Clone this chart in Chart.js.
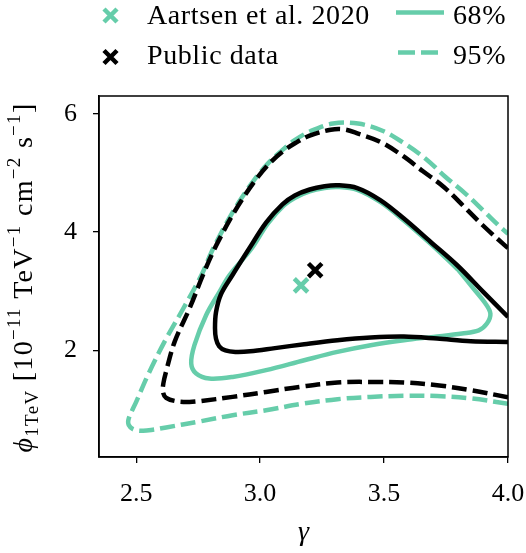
<!DOCTYPE html>
<html>
<head>
<meta charset="utf-8">
<script src="https://cdn.jsdelivr.net/npm/chart.js@4.4.1/dist/chart.umd.min.js"></script>
<style>
  html, body { margin: 0; padding: 0; background: #fff; }
</style>
</head>
<body>
<canvas id="contours" width="526" height="553"></canvas>
<script>
const GREEN = '#66CDAA';
const BLACK = '#000000';
const SERIF = '"Liberation Serif", "DejaVu Serif", serif';

const xTicks = [2.5, 3.0, 3.5, 4.0];
const yTicks = [2, 4, 6];

// 95% contour, Aartsen et al. 2020
const aartsen95Gamma = [4.0, 3.85, 3.714, 3.58, 3.446, 3.312, 3.17, 3.024, 2.889, 2.755, 2.621, 2.567, 2.527, 2.49, 2.47, 2.47, 2.50, 2.547, 2.614, 2.69, 2.763, 2.803, 2.843, 2.883, 2.923, 2.977, 3.031, 3.084, 3.138, 3.205, 3.294, 3.395, 3.496, 3.587, 3.67, 3.748, 3.828, 3.902, 3.966, 4.0];
const aartsen95Phi = [1.10, 1.19, 1.23, 1.235, 1.215, 1.177, 1.10, 0.99, 0.906, 0.80, 0.70, 0.66, 0.643, 0.665, 0.74, 0.85, 1.131, 1.582, 2.145, 2.709, 3.271, 3.655, 3.987, 4.291, 4.563, 4.887, 5.157, 5.365, 5.55, 5.709, 5.834, 5.834, 5.709, 5.484, 5.231, 4.932, 4.651, 4.357, 4.099, 3.97];

// 68% contour, Aartsen et al. 2020 (closed)
const aartsen68Gamma = [3.80, 3.855, 3.909, 3.929, 3.915, 3.882, 3.815, 3.70, 3.58, 3.446, 3.312, 3.178, 3.024, 2.889, 2.795, 2.742, 2.722, 2.735, 2.782, 2.836, 2.876, 2.965, 3.03, 3.095, 3.145, 3.20, 3.26, 3.312, 3.392, 3.486, 3.58, 3.688, 3.77, 3.80];
const aartsen68Phi = [3.36, 3.074, 2.793, 2.624, 2.455, 2.34, 2.287, 2.23, 2.173, 2.089, 1.976, 1.835, 1.667, 1.553, 1.526, 1.611, 1.78, 2.089, 2.596, 2.989, 3.271, 3.72, 4.14, 4.45, 4.59, 4.69, 4.745, 4.762, 4.715, 4.505, 4.195, 3.80, 3.48, 3.36];

// 95% contour, public data
const public95Gamma = [4.0, 3.85, 3.714, 3.58, 3.446, 3.312, 3.158, 3.024, 2.889, 2.755, 2.715, 2.661, 2.621, 2.608, 2.610, 2.621, 2.655, 2.715, 2.769, 2.809, 2.849, 2.889, 2.929, 2.983, 3.037, 3.09, 3.144, 3.20, 3.285, 3.34, 3.395, 3.486, 3.576, 3.657, 3.741, 3.824, 3.898, 3.976, 4.0];
const public95Phi = [1.21, 1.329, 1.413, 1.459, 1.469, 1.459, 1.384, 1.30, 1.216, 1.143, 1.131, 1.143, 1.20, 1.30, 1.45, 1.65, 2.145, 2.709, 3.271, 3.655, 3.987, 4.291, 4.563, 4.887, 5.157, 5.358, 5.509, 5.63, 5.73, 5.735, 5.665, 5.523, 5.287, 5.028, 4.763, 4.425, 4.116, 3.817, 3.73];

// 68% contour, public data
const public68Gamma = [4.0, 3.85, 3.714, 3.58, 3.446, 3.312, 3.178, 3.06, 2.96, 2.90, 2.86, 2.835, 2.822, 2.818, 2.822, 2.842, 2.888, 2.956, 3.024, 3.09, 3.14, 3.20, 3.26, 3.312, 3.392, 3.486, 3.58, 3.688, 3.795, 3.90, 4.0];
const public68Phi = [2.145, 2.156, 2.202, 2.236, 2.219, 2.173, 2.106, 2.04, 1.985, 1.975, 2.0, 2.07, 2.2, 2.376, 2.646, 2.95, 3.271, 3.722, 4.16, 4.47, 4.62, 4.72, 4.775, 4.792, 4.745, 4.538, 4.229, 3.834, 3.44, 2.99, 2.567];

// best-fit points
const aartsenBest = [3.165, 3.10];
const publicBest = [3.222, 3.356];

function pts(g, p) {
  return g.map((x, i) => ({ x, y: p[i] }));
}

function contour(g, p, color, dashed, order) {
  return {
    data: pts(g, p),
    showLine: true,
    borderColor: color,
    borderWidth: 4.5,
    borderDash: dashed ? [15, 6] : [],
    pointRadius: 0,
    tension: 0.35,
    fill: false,
    order
  };
}

function cross(x, y, ctx, size, color) {
  ctx.save();
  ctx.strokeStyle = color;
  ctx.lineWidth = 4.5;
  ctx.beginPath();
  ctx.moveTo(x - size, y - size); ctx.lineTo(x + size, y + size);
  ctx.moveTo(x - size, y + size); ctx.lineTo(x + size, y - size);
  ctx.stroke();
  ctx.restore();
}

const decorations = {
  id: 'decorations',
  afterDraw(chart) {
    const { ctx, chartArea: a } = chart;
    ctx.save();
    // frame
    ctx.strokeStyle = BLACK;
    ctx.lineWidth = 1.5;
    ctx.strokeRect(a.left, a.top, a.right - a.left, a.bottom - a.top);

    // legend
    ctx.fillStyle = BLACK;
    ctx.font = '28px ' + SERIF;
    ctx.letterSpacing = '0.6px';
    ctx.textBaseline = 'alphabetic';
    cross(110.5, 15.5, ctx, 6.5, GREEN);
    ctx.fillText('Aartsen et al. 2020', 147, 23.5);
    cross(110.5, 57, ctx, 6.5, BLACK);
    ctx.fillText('Public data', 147, 63.5);

    ctx.strokeStyle = GREEN;
    ctx.lineWidth = 4.5;
    ctx.beginPath(); ctx.moveTo(396, 12.5); ctx.lineTo(444, 12.5); ctx.stroke();
    ctx.setLineDash([17, 6]);
    ctx.beginPath(); ctx.moveTo(398, 52.5); ctx.lineTo(442, 52.5); ctx.stroke();
    ctx.setLineDash([]);
    ctx.fillText('68%', 453, 23.5);
    ctx.fillText('95%', 453, 63.5);
    ctx.letterSpacing = '0px';

    // x title
    ctx.font = 'italic 28px ' + SERIF;
    ctx.textAlign = 'center';
    ctx.fillText('γ', (a.left + a.right) / 2, 540);

    // y title with sub/superscripts
    const big = '28px ' + SERIF, small = '19px ' + SERIF;
    const parts = [
      { t: 'ϕ', f: 'italic ' + big, dy: 0 },
      { t: '1TeV', f: small, dy: 6 },
      { t: ' [10', f: big, dy: 0 },
      { t: '−11', f: small, dy: -12 },
      { t: ' TeV', f: big, dy: 0 },
      { t: '−1', f: small, dy: -12 },
      { t: ' cm', f: big, dy: 0 },
      { t: '−2', f: small, dy: -12 },
      { t: ' s', f: big, dy: 0 },
      { t: '−1', f: small, dy: -12 },
      { t: ']', f: big, dy: 0 }
    ];
    ctx.textAlign = 'left';
    ctx.letterSpacing = '1.3px';
    let total = 0;
    parts.forEach(p => { ctx.font = p.f; p.w = ctx.measureText(p.t).width; total += p.w; });
    ctx.translate(32, 277.5);
    ctx.rotate(-Math.PI / 2);
    let x = -total / 2;
    parts.forEach(p => {
      ctx.font = p.f;
      ctx.fillText(p.t, x, p.dy);
      x += p.w;
    });
    ctx.restore();
  }
};

new Chart(document.getElementById('contours'), {
  type: 'scatter',
  data: {
    datasets: [
      { data: [{ x: aartsenBest[0], y: aartsenBest[1] }], pointStyle: 'crossRot', pointRadius: 9.5, borderWidth: 4.5, borderColor: GREEN, backgroundColor: GREEN, order: 0 },
      { data: [{ x: publicBest[0], y: publicBest[1] }], pointStyle: 'crossRot', pointRadius: 9.5, borderWidth: 4.5, borderColor: BLACK, backgroundColor: BLACK, order: 0 },
      contour(public68Gamma, public68Phi, BLACK, false, 1),
      contour(public95Gamma, public95Phi, BLACK, true, 2),
      contour(aartsen68Gamma, aartsen68Phi, GREEN, false, 3),
      contour(aartsen95Gamma, aartsen95Phi, GREEN, true, 4)
    ]
  },
  options: {
    responsive: false,
    animation: false,
    devicePixelRatio: 1,
    layout: { padding: { top: 96, right: 18, left: 0, bottom: 0 } },
    plugins: { legend: { display: false }, tooltip: { enabled: false } },
    scales: {
      x: {
        type: 'linear',
        min: 2.35,
        max: 4.0,
        afterBuildTicks: s => { s.ticks = xTicks.map(v => ({ value: v })); },
        afterFit: s => { s.height = 96; s.paddingLeft = 0; s.paddingRight = 0; },
        grid: { drawOnChartArea: false, drawTicks: true, tickLength: 6, color: BLACK, lineWidth: 1.3 },
        border: { display: true, color: BLACK, width: 1.5 },
        ticks: { color: BLACK, padding: 16, maxRotation: 0, font: { family: SERIF, size: 26 }, callback: v => v.toFixed(1) }
      },
      y: {
        type: 'linear',
        min: 0.2,
        max: 6.3,
        afterBuildTicks: s => { s.ticks = yTicks.map(v => ({ value: v })); },
        afterFit: s => { s.width = 99; s.paddingTop = 0; s.paddingBottom = 0; },
        grid: { drawOnChartArea: false, drawTicks: true, tickLength: 6, color: BLACK, lineWidth: 1.3 },
        border: { display: true, color: BLACK, width: 1.5 },
        ticks: { color: BLACK, padding: 16, font: { family: SERIF, size: 26 }, callback: v => String(v) }
      }
    }
  },
  plugins: [decorations]
});
</script>
</body>
</html>
